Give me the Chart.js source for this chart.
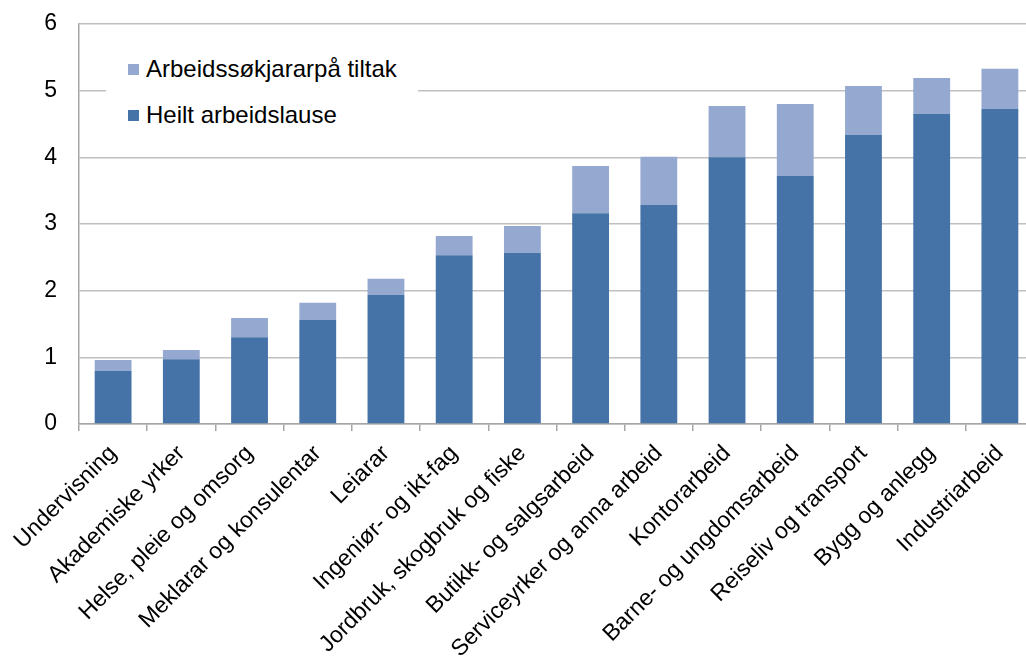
<!DOCTYPE html>
<html lang="nn">
<head>
<meta charset="utf-8">
<title>Arbeidslause etter yrke</title>
<script src="https://cdn.jsdelivr.net/npm/chart.js@4"></script>
<style>
  html, body { margin: 0; padding: 0; background: #fff; overflow: hidden; }
  /* litt breiare enn vindauget: plottet er skore av til høgre i originalen */
  #wrap { position: relative; width: 1034px; height: 666px; }
  #legend {
    position: absolute; left: 106px; top: 46px; width: 312px; height: 92px;
    background: #fff; font-family: "Liberation Sans", Arial, sans-serif; font-size: 24px; color: #000;
  }
  #legend div { position: absolute; left: 22px; white-space: nowrap; }
  #legend span { display: inline-block; width: 11px; height: 11px; margin-right: 7px; vertical-align: 2px; }
</style>
</head>
<body>
<div id="wrap">
  <canvas id="chart"></canvas>
  <div id="legend">
    <div style="top:9px"><span style="background:#95a9d0"></span>Arbeidssøkjararpå tiltak</div>
    <div style="top:55px"><span style="background:#4573a7"></span>Heilt arbeidslause</div>
  </div>
</div>
<script>
// yrkesgrupper
const yrke = ['Undervisning', 'Akademiske yrker', 'Helse, pleie og omsorg', 'Meklarar og konsulentar',
  'Leiarar', 'Ingeniør- og ikt-fag', 'Jordbruk, skogbruk og fiske', 'Butikk- og salgsarbeid',
  'Serviceyrker og anna arbeid', 'Kontorarbeid', 'Barne- og ungdomsarbeid', 'Reiseliv og transport',
  'Bygg og anlegg', 'Industriarbeid'];

// prosent, lese av biletet
const heilt = [0.80, 0.97, 1.30, 1.56, 1.94, 2.53, 2.57, 3.16, 3.29, 4.00, 3.72, 4.34, 4.65, 4.73];
const tiltak = [0.16, 0.14, 0.29, 0.26, 0.24, 0.29, 0.40, 0.71, 0.72, 0.77, 1.08, 0.73, 0.54, 0.60];

const yTicks = [0, 1, 2, 3, 4, 5, 6];

const font = { family: '"Liberation Sans", Arial, sans-serif', size: 23 };

const config = {
  type: 'bar',
  data: {
    labels: yrke,
    datasets: [
      { label: 'Heilt arbeidslause', data: heilt, backgroundColor: '#4573a7' },
      { label: 'Arbeidssøkjararpå tiltak', data: tiltak, backgroundColor: '#95a9d0' }
    ]
  },
  options: {
    responsive: true,
    maintainAspectRatio: false,
    animation: false,
    layout: { padding: { top: 24, right: 0, bottom: 0, left: 0 } },
    datasets: { bar: { barPercentage: 0.54, categoryPercentage: 1 } },
    plugins: { legend: { display: false }, tooltip: { enabled: false } },
    scales: {
      x: {
        stacked: true,
        afterFit: s => { s.height = 242; },
        border: { color: '#a6a6a6', width: 1.5 },
        grid: { drawOnChartArea: false, drawTicks: true, tickLength: 7, color: '#a6a6a6', lineWidth: 1.5, offset: true },
        ticks: { color: '#000', font: font, autoSkip: false, minRotation: 45, maxRotation: 45, padding: 9 }
      },
      y: {
        stacked: true,
        min: 0,
        max: 6,
        // fast breidd, og ikkje ekstra luft over toppen
        afterFit: s => { s.width = 79; s.paddingTop = 0; s.paddingBottom = 0; },
        afterBuildTicks: s => { s.ticks = yTicks.map(v => ({ value: v })); },
        border: { color: '#a6a6a6', width: 1.5 },
        grid: { color: '#c0c0c0', lineWidth: 1.5, drawTicks: false },
        ticks: { color: '#000', font: font, padding: 22 }
      }
    }
  }
};

const chart = new Chart(document.getElementById('chart'), config);
</script>
</body>
</html>
